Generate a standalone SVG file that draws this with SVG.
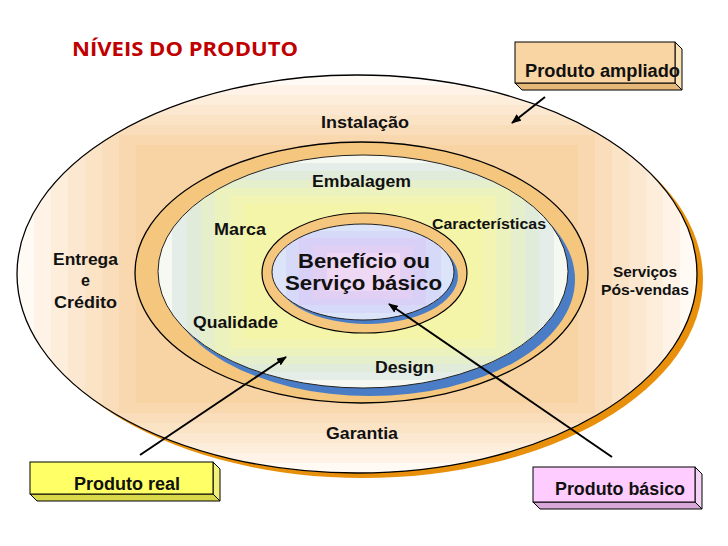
<svg xmlns="http://www.w3.org/2000/svg" width="728" height="546" viewBox="0 0 728 546">
<style>
.lbl{font-family:"Liberation Sans",Arial,sans-serif;font-weight:bold;font-size:16px;fill:#111}
.sm{font-size:14px}
.big{font-size:20px}
.box{font-size:18px}
.edge{fill:none;stroke:#000;stroke-width:1.3}
.con{stroke:#000;stroke-width:2;fill:none;marker-end:url(#ah)}
</style>
<defs>
<marker id="ah" markerWidth="10" markerHeight="8" refX="9" refY="4" orient="auto" markerUnits="userSpaceOnUse">
<path d="M0,0 L10,4 L0,8 z" fill="#000"/>
</marker>
<clipPath id="clipOuter"><ellipse cx="357" cy="274" rx="340" ry="199"/></clipPath>
<clipPath id="clipMid"><ellipse cx="363" cy="271.5" rx="205" ry="116.5"/></clipPath>
<clipPath id="clipCore"><ellipse cx="363" cy="272" rx="91" ry="48"/></clipPath>
</defs>
<rect width="728" height="546" fill="#fff"/>

<g id="title">
<text x="72" y="56" textLength="226" lengthAdjust="spacingAndGlyphs" style="font-family:'Open Sans','Liberation Sans',sans-serif;font-weight:bold;font-size:20px;fill:#C00000">NÍVEIS DO PRODUTO</text>
</g>

<g id="level-ampliado">
<ellipse cx="363" cy="279" rx="340" ry="199" fill="#E8900C"/>
<g clip-path="url(#clipOuter)">
<rect x="17" y="75" width="680" height="398" fill="#FFFAF4"/>
<rect x="34" y="85" width="646" height="378" fill="#FEF3E6"/>
<rect x="51" y="95" width="612" height="358" fill="#FDEEDB"/>
<rect x="68" y="105" width="578" height="338" fill="#FCE8D0"/>
<rect x="85" y="115" width="544" height="318" fill="#FBE3C5"/>
<rect x="102" y="125" width="510" height="298" fill="#FADDBA"/>
<rect x="119" y="135" width="476" height="278" fill="#F9D8AF"/>
<rect x="136" y="145" width="442" height="258" fill="#F8D3A4"/>
</g>
<ellipse class="edge" cx="357" cy="274" rx="340" ry="199"/>
</g>

<g id="level-real">
<ellipse cx="361.5" cy="272.5" rx="226.5" ry="130.5" fill="#F5C67E" stroke="#000" stroke-width="1.3"/>
<ellipse cx="370" cy="279.5" rx="205" ry="116.5" fill="#4A7DC6"/>
<g clip-path="url(#clipMid)">
<rect x="158" y="155" width="410" height="233" fill="#F6F9F1"/>
<rect x="172" y="163" width="382" height="217" fill="#E4EDE8"/>
<rect x="187" y="171" width="352" height="201" fill="#E0EBDA"/>
<rect x="201" y="180" width="324" height="184" fill="#E6EFCB"/>
<rect x="215" y="188" width="296" height="168" fill="#ECF2BE"/>
<rect x="230" y="196" width="266" height="152" fill="#F1F4B2"/>
<rect x="244" y="204" width="238" height="135" fill="#F4F5A8"/>
</g>
<ellipse cx="363" cy="271.5" rx="205" ry="116.5" fill="none" stroke="#222" stroke-width="1"/>
</g>

<g id="level-basico">
<ellipse cx="364.5" cy="273" rx="102.5" ry="60" fill="#F5C67E" stroke="#000" stroke-width="1.2"/>
<ellipse cx="367" cy="276" rx="91" ry="48" fill="#4A7DC6"/>
<g clip-path="url(#clipCore)">
<rect x="272" y="224" width="182" height="96" fill="#DCE4FA"/>
<rect x="286" y="231" width="155" height="82" fill="#D6DAF8"/>
<rect x="299" y="238" width="127" height="67" fill="#D8D0F6"/>
<rect x="313" y="246" width="100" height="53" fill="#E2D0F4"/>
<rect x="327" y="253" width="73" height="38" fill="#EED8F4"/>
</g>
<ellipse cx="363" cy="272" rx="91" ry="48" fill="none" stroke="#222" stroke-width="1"/>
</g>

<g id="labels">
<text class="lbl" x="321" y="128" textLength="88" lengthAdjust="spacingAndGlyphs">Instalação</text>
<text class="lbl" x="312" y="187" textLength="99" lengthAdjust="spacingAndGlyphs">Embalagem</text>
<text class="lbl" x="214" y="235" textLength="52" lengthAdjust="spacingAndGlyphs">Marca</text>
<text class="lbl sm" x="432" y="229" textLength="114" lengthAdjust="spacingAndGlyphs">Características</text>
<text class="lbl" x="53" y="265" textLength="65" lengthAdjust="spacingAndGlyphs">Entrega</text>
<text class="lbl" x="85.5" y="286" text-anchor="middle">e</text>
<text class="lbl" x="54" y="308" textLength="63" lengthAdjust="spacingAndGlyphs">Crédito</text>
<text class="lbl sm" x="613" y="277" textLength="64" lengthAdjust="spacingAndGlyphs">Serviços</text>
<text class="lbl sm" x="601" y="295" textLength="88" lengthAdjust="spacingAndGlyphs">Pós-vendas</text>
<text class="lbl" x="193" y="328" textLength="85" lengthAdjust="spacingAndGlyphs">Qualidade</text>
<text class="lbl" x="375" y="373" textLength="59" lengthAdjust="spacingAndGlyphs">Design</text>
<text class="lbl" x="326" y="439" textLength="72" lengthAdjust="spacingAndGlyphs">Garantia</text>
<text class="lbl big" x="298" y="268" textLength="132" lengthAdjust="spacingAndGlyphs">Benefício ou</text>
<text class="lbl big" x="285" y="290" textLength="157" lengthAdjust="spacingAndGlyphs">Serviço básico</text>
</g>

<g id="connectors">
<line class="con" x1="545" y1="97" x2="512" y2="123"/>
<line class="con" x1="140" y1="455" x2="286" y2="357"/>
<line class="con" x1="612" y1="457" x2="389" y2="304"/>
</g>

<g id="box-ampliado">
<polygon points="515,83 675,83 682,90 522,90" fill="#E6B878" stroke="#000" stroke-width="1"/>
<polygon points="675,42 682,49 682,90 675,83" fill="#FAE2B4" stroke="#000" stroke-width="1"/>
<rect x="515" y="42" width="160" height="41" fill="#F8D5A3" stroke="#000" stroke-width="1"/>
<text class="lbl box" x="525" y="77" textLength="155" lengthAdjust="spacingAndGlyphs">Produto ampliado</text>
</g>

<g id="box-real">
<polygon points="30,494 213,494 220,501 37,501" fill="#D8D848" stroke="#000" stroke-width="1"/>
<polygon points="213,462 220,469 220,501 213,494" fill="#F2F27A" stroke="#000" stroke-width="1"/>
<rect x="30" y="462" width="183" height="32" fill="#FFFF66" stroke="#000" stroke-width="1"/>
<text class="lbl box" x="74" y="490" textLength="106" lengthAdjust="spacingAndGlyphs">Produto real</text>
</g>

<g id="box-basico">
<polygon points="533,502 695,502 702,509 540,509" fill="#D8A8D8" stroke="#000" stroke-width="1"/>
<polygon points="695,467 702,474 702,509 695,502" fill="#F4D4F4" stroke="#000" stroke-width="1"/>
<rect x="533" y="467" width="162" height="35" fill="#FFCCFF" stroke="#000" stroke-width="1"/>
<text class="lbl box" x="555" y="495" textLength="130" lengthAdjust="spacingAndGlyphs">Produto básico</text>
</g>
</svg>
